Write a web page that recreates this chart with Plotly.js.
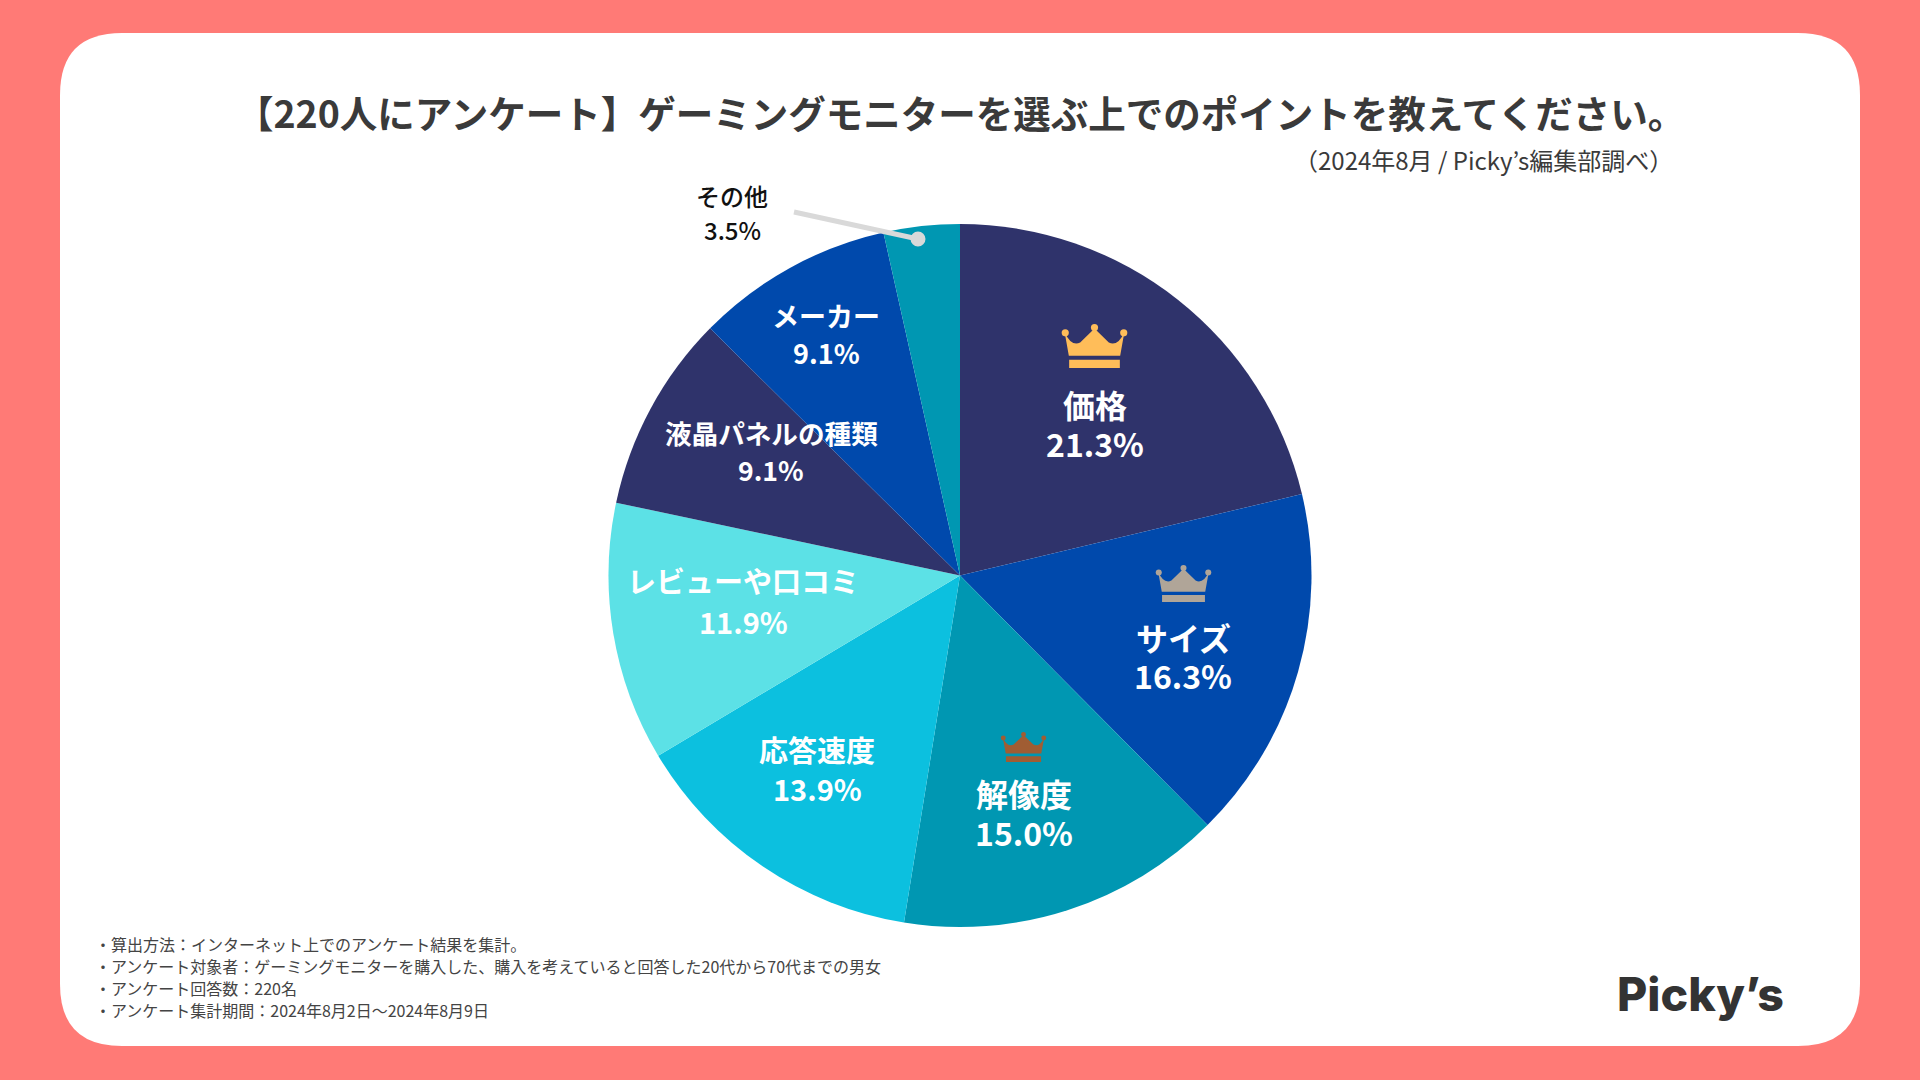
<!DOCTYPE html>
<html><head><meta charset="utf-8">
<script src="https://cdn.plot.ly/plotly-3.0.1.min.js"></script>
<style>html,body{margin:0;padding:0;background:#FF7A76;overflow:hidden}#c{width:1920px;height:1080px}</style>
</head><body><div id="c"></div>
<script>
const categories=['価格','サイズ','解像度','応答速度','レビューや口コミ','液晶パネルの種類','メーカー','その他'];
const shares=[21.3,16.3,15.0,13.9,11.9,9.1,9.1,3.5];
const sliceColors=['#2F336B','#0049AC','#0097B2','#0CC0DF','#5CE1E6','#2F336B','#0049AC','#0097B2'];
const titleText='【220人にアンケート】ゲーミングモニターを選ぶ上でのポイントを教えてください。';
const subtitleText='（2024年8月 / Picky’s編集部調べ）';
const noteLines=['・算出方法：インターネット上でのアンケート結果を集計。','・アンケート対象者：ゲーミングモニターを購入した、購入を考えていると回答した20代から70代までの男女','・アンケート回答数：220名','・アンケート集計期間：2024年8月2日〜2024年8月9日'];
const logoText='Picky’s';

const W=1920,H=1080,FONT='"Noto Sans CJK JP","Noto Sans",sans-serif';
const cx=960,cy=575.5,R=351.5;
const X=x=>x/W, Y=y=>1-y/H;
// label placement: [x, name y, value y, font size, colour]
const labelPlace=[[1095,404,443,32,'#fff'],[1183,637,675,32,'#fff'],[1024,793,832,32,'#fff'],[817,749,788,29,'#fff'],[743,580,621,29,'#fff'],[771,432,470,26.6,'#fff'],[826,315,352,27,'#fff'],[732,195,229,24,'#111']];
const ann=[];
function T(text,x,y,size,color,opt={}){ann.push(Object.assign({text,x:X(x),y:Y(y),xref:'paper',yref:'paper',showarrow:false,xanchor:'center',yanchor:'middle',borderpad:0,font:{family:FONT,size,color,weight:opt.weight||500}},opt.a||{}));}
categories.forEach((c,i)=>{const p=labelPlace[i];const w=i===7?500:600;
 T(c,p[0],p[1],p[3],p[4],{weight:w});T(shares[i].toFixed(1)+'%',p[0],p[2],p[3],p[4],{weight:w});});
T(titleText,960,111.5,37.5,'#3A3A3A',{weight:700});
T(subtitleText,1674,159,24,'#3A3A3A',{weight:400,a:{xanchor:'right'}});
[944,966,988,1010].forEach((y,i)=>T(noteLines[i],94,y,16,'#444',{weight:400,a:{xanchor:'left'}}));
T(logoText,1700,994,46.5,'#333',{a:{font:{family:'Inter,Lato,sans-serif',size:46.5,color:'#333',weight:800}}});

const shapes=[];
function pathPx(cmds){return cmds.map(c=>typeof c==='string'?c:c.join?`${X(c[0])},${Y(c[1])}`:c).join(' ');}
// white card
{const l=60,r=1860,t=33,b=1046,q=62;
 shapes.push({type:'path',xref:'paper',yref:'paper',layer:'below',line:{width:0},fillcolor:'#fff',
  path:pathPx(['M',[l+q,t],'L',[r-q,t],'Q',[r,t],[r,t+q],'L',[r,b-q],'Q',[r,b],[r-q,b],'L',[l+q,b],'Q',[l,b],[l,b-q],'L',[l,t+q],'Q',[l,t],[l+q,t],'Z'])});}
function crown(x0,y0,x1,y1,color){const w=x1-x0,h=y1-y0,P=(u,v)=>[x0+u*w,y0+v*h];
 shapes.push({type:'path',xref:'paper',yref:'paper',line:{width:0},fillcolor:color,
  path:pathPx(['M',P(.04,.18),'L',P(.105,.72),'L',P(.895,.72),'L',P(.96,.18),'Q',P(.86,.52),P(.72,.42),'L',P(.5,.1),'L',P(.28,.42),'Q',P(.14,.52),P(.04,.18),'Z'])});
 shapes.push({type:'path',xref:'paper',yref:'paper',line:{width:0},fillcolor:color,
  path:pathPx(['M',P(.11,.81),'L',P(.89,.81),'L',P(.89,1),'L',P(.11,1),'Z'])});
 [[.05,.2],[.5,.08],[.95,.2]].forEach(b=>{const r=w*.055,c=P(b[0],b[1]);
  shapes.push({type:'circle',xref:'paper',yref:'paper',line:{width:0},fillcolor:color,x0:X(c[0]-r),x1:X(c[0]+r),y0:Y(c[1]-r),y1:Y(c[1]+r)});});
}
crown(1062,324,1127,368,'#FFBD59');
crown(1156,565,1211,602,'#B0A598');
crown(1001,732,1046,762,'#A05D33');
// leader
shapes.push({type:'line',xref:'paper',yref:'paper',x0:X(794),y0:Y(212),x1:X(918),y1:Y(239),line:{color:'#D9D9D9',width:5}});
shapes.push({type:'circle',xref:'paper',yref:'paper',line:{width:0},fillcolor:'#D9D9D9',x0:X(910.5),x1:X(925.5),y0:Y(231.5),y1:Y(246.5)});

Plotly.newPlot('c',[{type:'pie',labels:categories,values:shares,sort:false,direction:'clockwise',rotation:0,
 marker:{colors:sliceColors,line:{width:0}},textinfo:'none',hoverinfo:'skip',showlegend:false,
 domain:{x:[X(cx-R),X(cx+R)],y:[Y(cy+R),Y(cy-R)]}}],
 {width:W,height:H,margin:{l:0,r:0,t:0,b:0},paper_bgcolor:'#FF7A76',showlegend:false,annotations:ann,shapes},
 {staticPlot:true,displayModeBar:false});
</script></body></html>
